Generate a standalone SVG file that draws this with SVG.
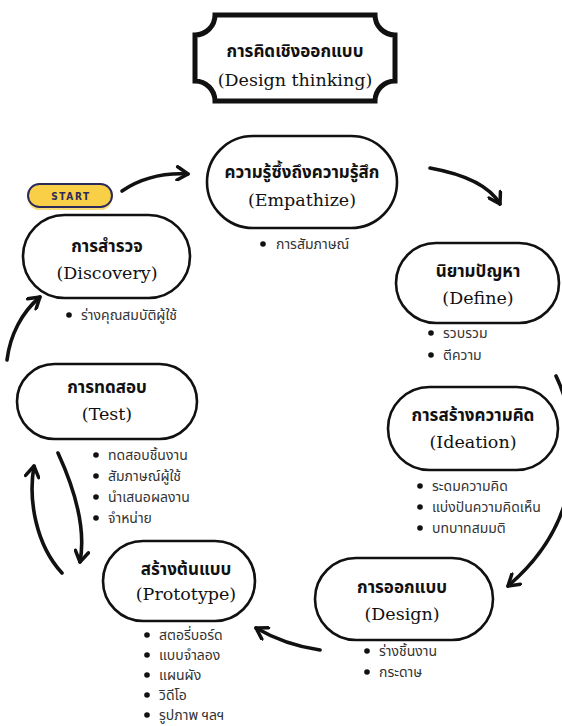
<svg xmlns="http://www.w3.org/2000/svg" width="562" height="726" viewBox="0 0 562 726">
<defs>
<style>
.node{fill:#fff;stroke:#111;stroke-width:2.6}
.th{font-family:"Noto Sans Thai","Noto Sans","DejaVu Sans",sans-serif;font-size:17px;font-weight:bold;fill:#111;text-anchor:middle}
.en{font-family:"DejaVu Serif","Liberation Serif",serif;font-size:17.5px;fill:#111;text-anchor:middle}
.bl{font-family:"Noto Sans Thai","Noto Sans","DejaVu Sans",sans-serif;font-size:14px;fill:#333}
.dot{fill:#111}
.arr{fill:none;stroke:#111;stroke-width:3.6;stroke-linecap:round;marker-end:url(#ah)}
.st{font-family:"DejaVu Sans Condensed","DejaVu Sans",sans-serif;font-size:10px;font-weight:bold;letter-spacing:1.6px;fill:#2B2A5C;text-anchor:middle}
</style>
<marker id="ah" viewBox="0 0 12 12" refX="10" refY="6" markerWidth="16" markerHeight="16" markerUnits="userSpaceOnUse" orient="auto">
<path d="M2,1 L10,6 L2,11" fill="none" stroke="#111" stroke-width="2.6" stroke-linecap="round" stroke-linejoin="round"/>
</marker>
</defs>
<rect width="562" height="726" fill="#fff"/>

<g id="title">
<path d="M215 15 H375 A20 20 0 0 0 395 35 V81 A20 20 0 0 0 375 101 H215 A20 20 0 0 0 195 81 V35 A20 20 0 0 0 215 15 Z" fill="#fff" stroke="#111" stroke-width="5"/>
<text class="th" x="295" y="57">การคิดเชิงออกแบบ</text>
<text class="en" x="295" y="86" font-size="19">(Design thinking)</text>
</g>

<g id="start">
<rect x="28" y="187" width="84" height="23" rx="11.5" fill="#F7DC7A"/>
<rect x="28" y="184" width="84" height="23" rx="11.5" fill="#F9CF47" stroke="#2B2A5C" stroke-width="2"/>
<text class="st" x="71" y="200">START</text>
</g>

<g id="connectors">
<path class="arr" d="M122 191 Q150 172 188 174"/>
<path class="arr" d="M430 168 Q485 178 500 204"/>
<path class="arr" d="M556 376 C582 430 586 520 508 586"/>
<path class="arr" d="M320 650 Q285 645 256 628"/>
<path class="arr" d="M58 453 C75 490 86 530 80 562"/>
<path class="arr" d="M62 573 C36 545 28 500 34 466"/>
<path class="arr" d="M7 360 C10 335 22 312 40 297"/>
</g>

<g id="empathize">
<rect class="node" x="207" y="136" width="190" height="92" rx="46"/>
<text class="th" x="302" y="178">ความรู้ซึ้งถึงความรู้สึก</text>
<text class="en" x="302" y="206">(Empathize)</text>
<circle class="dot" cx="263" cy="244" r="2.8"/>
<text class="bl" x="276" y="249">การสัมภาษณ์</text>
</g>

<g id="define">
<rect class="node" x="396" y="243" width="163" height="80" rx="40"/>
<text class="th" x="478" y="277">นิยามปัญหา</text>
<text class="en" x="478" y="304">(Define)</text>
<circle class="dot" cx="431" cy="333" r="2.8"/>
<text class="bl" x="443" y="338">รวบรวม</text>
<circle class="dot" cx="431" cy="355" r="2.8"/>
<text class="bl" x="443" y="360">ตีความ</text>
</g>

<g id="ideation">
<rect class="node" x="388" y="387" width="170" height="83" rx="41.5"/>
<text class="th" x="473" y="421">การสร้างความคิด</text>
<text class="en" x="473" y="448">(Ideation)</text>
<circle class="dot" cx="420" cy="486" r="2.8"/>
<text class="bl" x="432" y="491">ระดมความคิด</text>
<circle class="dot" cx="420" cy="507" r="2.8"/>
<text class="bl" x="432" y="512">แบ่งปันความคิดเห็น</text>
<circle class="dot" cx="420" cy="528" r="2.8"/>
<text class="bl" x="432" y="533">บทบาทสมมติ</text>
</g>

<g id="design">
<rect class="node" x="315" y="558" width="178" height="82" rx="41"/>
<text class="th" x="402" y="593">การออกแบบ</text>
<text class="en" x="402" y="620">(Design)</text>
<circle class="dot" cx="367" cy="651" r="2.8"/>
<text class="bl" x="379" y="656">ร่างชิ้นงาน</text>
<circle class="dot" cx="367" cy="672" r="2.8"/>
<text class="bl" x="379" y="677">กระดาษ</text>
</g>

<g id="prototype">
<rect class="node" x="103" y="541" width="152" height="80" rx="40"/>
<text class="th" x="186" y="575">สร้างต้นแบบ</text>
<text class="en" x="186" y="600">(Prototype)</text>
<circle class="dot" cx="147" cy="635" r="2.8"/>
<text class="bl" x="159" y="640">สตอรี่บอร์ด</text>
<circle class="dot" cx="147" cy="655" r="2.8"/>
<text class="bl" x="159" y="660">แบบจำลอง</text>
<circle class="dot" cx="147" cy="675" r="2.8"/>
<text class="bl" x="159" y="680">แผนผัง</text>
<circle class="dot" cx="147" cy="695" r="2.8"/>
<text class="bl" x="159" y="700">วิดีโอ</text>
<circle class="dot" cx="147" cy="715" r="2.8"/>
<text class="bl" x="159" y="720">รูปภาพ ฯลฯ</text>
</g>

<g id="test">
<rect class="node" x="17" y="364" width="180" height="75" rx="37.5"/>
<text class="th" x="107" y="393">การทดสอบ</text>
<text class="en" x="107" y="420">(Test)</text>
<circle class="dot" cx="96" cy="455" r="2.8"/>
<text class="bl" x="108" y="460">ทดสอบชิ้นงาน</text>
<circle class="dot" cx="96" cy="476" r="2.8"/>
<text class="bl" x="108" y="481">สัมภาษณ์ผู้ใช้</text>
<circle class="dot" cx="96" cy="497" r="2.8"/>
<text class="bl" x="108" y="502">นำเสนอผลงาน</text>
<circle class="dot" cx="96" cy="518" r="2.8"/>
<text class="bl" x="108" y="523">จำหน่าย</text>
</g>

<g id="discovery">
<rect class="node" x="23" y="215" width="167" height="83" rx="41.5"/>
<text class="th" x="107" y="252">การสำรวจ</text>
<text class="en" x="107" y="279">(Discovery)</text>
<circle class="dot" cx="69" cy="315" r="2.8"/>
<text class="bl" x="81" y="320">ร่างคุณสมบัติผู้ใช้</text>
</g>
</svg>
